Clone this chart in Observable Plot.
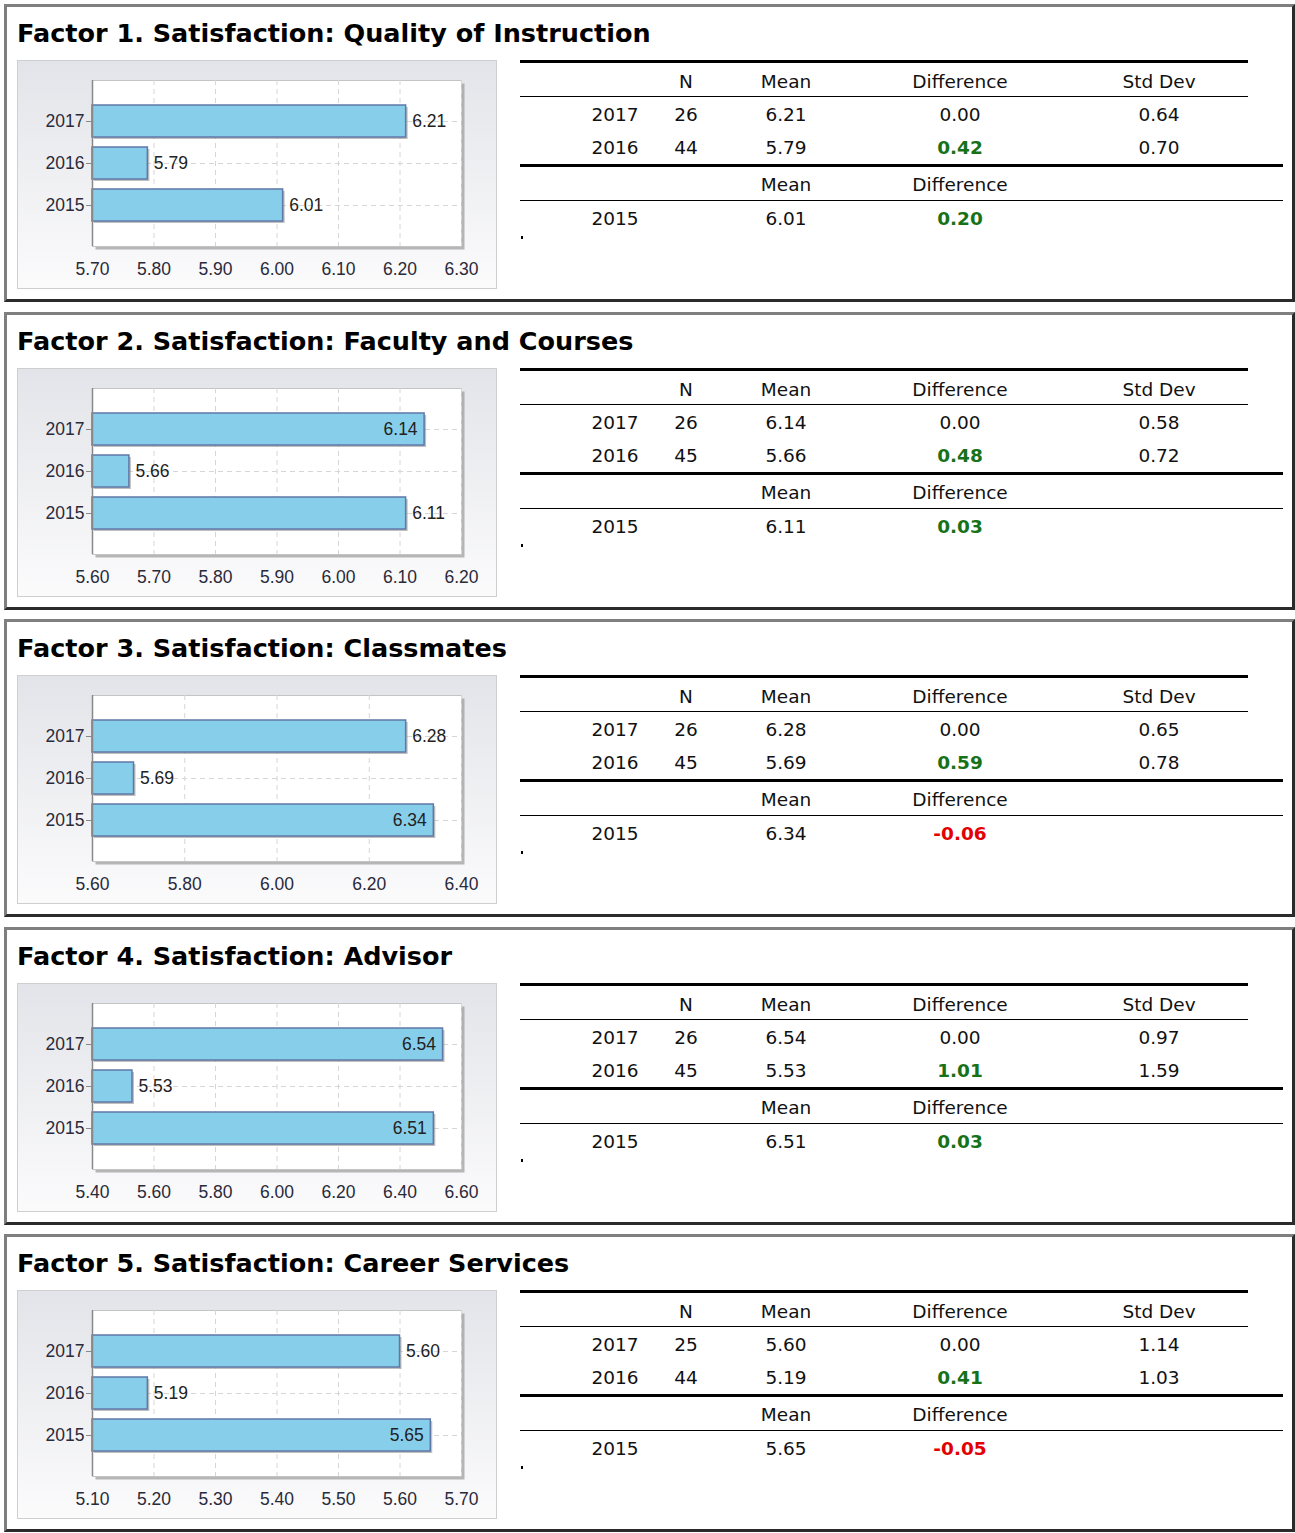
<!DOCTYPE html>
<html>
<head>
<meta charset="utf-8">
<script src="https://cdn.jsdelivr.net/npm/d3@7"></script>
<script src="https://cdn.jsdelivr.net/npm/@observablehq/plot@0.6"></script>
<style>
  html, body { margin: 0; padding: 0; background: #fff; }
  body { width: 1295px; height: 1533px; position: relative; overflow: hidden; }
  .panel { position: absolute; box-sizing: border-box; border: 3px solid; border-color: #7f7f7f #2b2b2b #2b2b2b #7f7f7f; }
  .title { position: absolute; font-family: "DejaVu Sans", Verdana, sans-serif; font-weight: bold; font-size: 25.5px; line-height: 30px; white-space: nowrap; color: #000; }
  .box { position: absolute; box-sizing: border-box; border: 1px solid #cfcfcf; background: linear-gradient(#e3e4e9, #fbfbfc); }
  .plot { position: absolute; }
  .cell { position: absolute; font-family: "DejaVu Sans", Verdana, sans-serif; font-size: 18.5px; line-height: 24px; height: 24px; width: 160px; text-align: center; white-space: nowrap; color: #111; }
  .line { position: absolute; background: #000; }
</style>
</head>
<body>
<script>
const factors = [
  "Factor 1. Satisfaction: Quality of Instruction",
  "Factor 2. Satisfaction: Faculty and Courses",
  "Factor 3. Satisfaction: Classmates",
  "Factor 4. Satisfaction: Advisor",
  "Factor 5. Satisfaction: Career Services"
];
const years = ["2017", "2016", "2015"];
const means = [
  [6.21, 5.79, 6.01],
  [6.14, 5.66, 6.11],
  [6.28, 5.69, 6.34],
  [6.54, 5.53, 6.51],
  [5.60, 5.19, 5.65]
];
const counts = [[26, 44], [26, 45], [26, 45], [26, 45], [25, 44]];
const diffs = [
  [0.00, 0.42, 0.20],
  [0.00, 0.48, 0.03],
  [0.00, 0.59, -0.06],
  [0.00, 1.01, 0.03],
  [0.00, 0.41, -0.05]
];
const stdDevs = [[0.64, 0.70], [0.58, 0.72], [0.65, 0.78], [0.97, 1.59], [1.14, 1.03]];
const xDomains = [[5.70, 6.30], [5.60, 6.20], [5.60, 6.40], [5.40, 6.60], [5.10, 5.70]];
const xTicks = [
  [5.70, 5.80, 5.90, 6.00, 6.10, 6.20, 6.30],
  [5.60, 5.70, 5.80, 5.90, 6.00, 6.10, 6.20],
  [5.60, 5.80, 6.00, 6.20, 6.40],
  [5.40, 5.60, 5.80, 6.00, 6.20, 6.40, 6.60],
  [5.10, 5.20, 5.30, 5.40, 5.50, 5.60, 5.70]
];
const headTop = ["", "N", "Mean", "Difference", "Std Dev"];
const headBottom = ["", "", "Mean", "Difference", ""];

const colX = [615, 686, 786, 960, 1159];

function el(cls, css, text) {
  const d = document.createElement("div");
  d.className = cls;
  Object.assign(d.style, css);
  if (text !== undefined) d.textContent = text;
  document.body.appendChild(d);
  return d;
}
function cell(cx, cy, text, extra) {
  const d = el("cell", {left: (cx - 80) + "px", top: (cy - 11) + "px"}, text);
  if (extra) Object.assign(d.style, extra);
  return d;
}
function diffStyle(v) {
  if (Math.abs(v) < 1e-9) return null;
  return {fontWeight: "bold", color: v > 0 ? "#177217" : "#e30000"};
}

factors.forEach((title, i) => {
  const oy = Math.round(i * 307.5);
  el("panel", {left: "4px", top: (4 + oy) + "px", width: "1291px", height: "298px"});
  el("title", {left: "17px", top: (18 + oy) + "px"}, title);
  el("box", {left: "17px", top: (60 + oy) + "px", width: "480px", height: "229px"});

  const [lo, hi] = xDomains[i];
  const data = years.map((y, j) => ({year: y, mean: means[i][j]}));
  const inside = d => (d.mean - lo) / (hi - lo) > 0.88;
  const chart = Plot.plot({
    width: 480, height: 229,
    marginLeft: 75, marginRight: 36, marginTop: 20, marginBottom: 43,
    x: {domain: xDomains[i], label: null},
    y: {domain: years, paddingInner: 0.25, paddingOuter: 0.58, label: null},
    style: {background: "transparent", fontFamily: "'Liberation Sans', Arial, sans-serif", fontSize: "17.5px", color: "#222", overflow: "visible"},
    marks: [
      Plot.frame({fill: "#9a9a9a", fillOpacity: 0.7, dx: 3, dy: 3}),
      Plot.frame({fill: "white", stroke: "#c4c4c4"}),
      Plot.gridX(xTicks[i], {stroke: "#d6d6d6", strokeOpacity: 1, strokeDasharray: "5,4"}),
      Plot.gridY({stroke: "#d6d6d6", strokeOpacity: 1, strokeDasharray: "5,4"}),
      Plot.barX(data, {x1: lo, x2: "mean", y: "year", fill: "#8a8a8a", fillOpacity: 0.55, dx: 2, dy: 2}),
      Plot.barX(data, {x1: lo, x2: "mean", y: "year", fill: "#87CEEB", stroke: "#5f78a8", strokeWidth: 1.5}),
      Plot.text(data.filter(d => !inside(d)), {x: "mean", y: "year", text: d => d.mean.toFixed(2), textAnchor: "start", dx: 6, fill: "#222"}),
      Plot.text(data.filter(inside), {x: "mean", y: "year", text: d => d.mean.toFixed(2), textAnchor: "end", dx: -7, fill: "#222"}),
      Plot.axisX({ticks: xTicks[i], tickSize: 0, tickPadding: 16, tickFormat: d => d.toFixed(2), fill: "#2a2a3a", label: null}),
      Plot.axisY({tickSize: 6, tickPadding: 2, stroke: "#888", fill: "#2a2a3a", label: null}),
      Plot.ruleX([lo], {stroke: "#888", strokeWidth: 1.5})
    ]
  });
  chart.classList.add("plot");
  chart.style.left = "17px";
  chart.style.top = (60 + oy) + "px";
  document.body.appendChild(chart);

  // table lines
  el("line", {left: "520px", top: (60 + oy) + "px", width: "728px", height: "3px"});
  el("line", {left: "520px", top: (96 + oy) + "px", width: "728px", height: "1px"});
  el("line", {left: "520px", top: (164 + oy) + "px", width: "763px", height: "3px"});
  el("line", {left: "520px", top: (200 + oy) + "px", width: "763px", height: "1px"});
  el("line", {left: "521px", top: (236 + oy) + "px", width: "2px", height: "3px"});

  headTop.forEach((h, k) => { if (h) cell(colX[k], 81 + oy, h); });
  [0, 1].forEach(j => {
    const cy = (j === 0 ? 114 : 147) + oy;
    cell(colX[0], cy, years[j]);
    cell(colX[1], cy, String(counts[i][j]));
    cell(colX[2], cy, means[i][j].toFixed(2));
    cell(colX[3], cy, diffs[i][j].toFixed(2), diffStyle(diffs[i][j]));
    cell(colX[4], cy, stdDevs[i][j].toFixed(2));
  });
  headBottom.forEach((h, k) => { if (h) cell(colX[k], 184 + oy, h); });
  cell(colX[0], 218 + oy, years[2]);
  cell(colX[2], 218 + oy, means[i][2].toFixed(2));
  cell(colX[3], 218 + oy, diffs[i][2].toFixed(2), diffStyle(diffs[i][2]));
});
</script>
</body>
</html>
